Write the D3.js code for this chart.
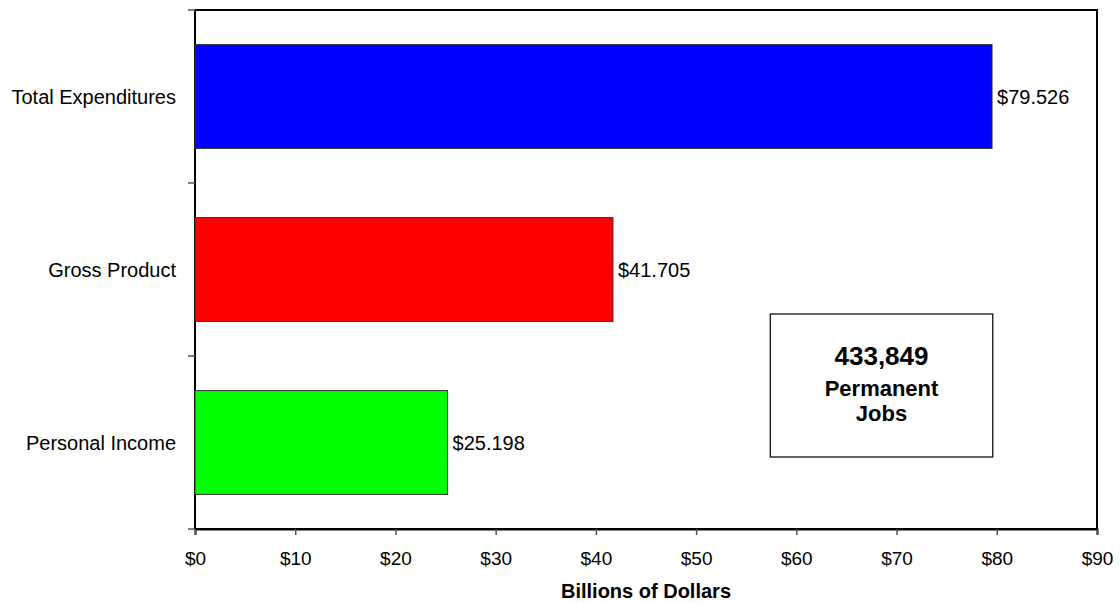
<!DOCTYPE html>
<html><head><meta charset="utf-8">
<script src="https://cdn.jsdelivr.net/npm/d3@7"></script>
<style>body{margin:0;background:#fff;} text{font-family:"Liberation Sans",Arial,sans-serif;}</style>
</head><body>
<svg id="c" width="1120" height="603"></svg>
<script>
const categories = ["Total Expenditures", "Gross Product", "Personal Income"];
const values = [79.526, 41.705, 25.198];
const barColors = ["#0000ff", "#ff0000", "#00ff00"];
const xTicks = [0,10,20,30,40,50,60,70,80,90];
const boxLines = ["433,849", "Permanent", "Jobs"];
const axisTitle = "Billions of Dollars";

const svg = d3.select("#c");
const L = 195, R = 1097, T = 10, B = 529;
const x = d3.scaleLinear().domain([0, 90]).range([L, R]);
const y = d3.scaleBand().domain(categories).range([T, B]).paddingInner(0.4).paddingOuter(0.2);
const yEdges = d3.scaleLinear().domain([0, categories.length]).range([T, B]);

// frame
svg.append("rect").attr("x", L).attr("y", T).attr("width", R - L).attr("height", B - T)
  .attr("fill", "none").attr("stroke", "#000").attr("stroke-width", 2);

// bars
svg.selectAll("rect.bar").data(values).join("rect").attr("class", "bar")
  .attr("x", x(0)).attr("y", (d, i) => y(categories[i]))
  .attr("width", d => x(d) - x(0)).attr("height", y.bandwidth())
  .attr("fill", (d, i) => barColors[i]).attr("stroke", "#333").attr("stroke-width", 1);

// value labels
svg.selectAll("text.val").data(values).join("text").attr("class", "val")
  .attr("x", d => x(d) + 5).attr("y", (d, i) => y(categories[i]) + y.bandwidth() / 2)
  .attr("dy", "0.35em").attr("font-size", 20).attr("fill", "#000")
  .text(d => "$" + d.toFixed(3));

// x axis
const xa = svg.append("g").attr("transform", `translate(0,${B})`)
  .call(d3.axisBottom(x).tickValues(xTicks).tickFormat(d => "$" + d).tickSize(6).tickPadding(17));
xa.select(".domain").attr("stroke", "#000").attr("stroke-width", 2);
xa.selectAll(".tick line").attr("stroke", "#555").attr("stroke-width", 1.5);
xa.selectAll("text").attr("font-size", 19).attr("fill", "#000").attr("font-family", "Liberation Sans, Arial, sans-serif");

// y edge ticks
svg.selectAll("line.yt").data(d3.range(categories.length + 1)).join("line").attr("class", "yt")
  .attr("x1", L - 7).attr("x2", L).attr("y1", d => yEdges(d)).attr("y2", d => yEdges(d))
  .attr("stroke", "#555").attr("stroke-width", 1.5);

// category labels
svg.selectAll("text.cat").data(categories).join("text").attr("class", "cat")
  .attr("x", L - 19).attr("y", d => y(d) + y.bandwidth() / 2).attr("dy", "0.35em")
  .attr("text-anchor", "end").attr("font-size", 20).attr("fill", "#000").text(d => d);

// axis title
svg.append("text").attr("x", (L + R) / 2).attr("y", 598).attr("text-anchor", "middle")
  .attr("font-size", 20).attr("font-weight", "bold").text(axisTitle);

// annotation box
const bx = x(57.4), bx2 = x(79.6), by = 314, by2 = 457;
svg.append("rect").attr("x", bx).attr("y", by).attr("width", bx2 - bx).attr("height", by2 - by)
  .attr("fill", "#fff").attr("stroke", "#000").attr("stroke-width", 1.2);
const cx = (bx + bx2) / 2;
svg.append("text").attr("x", cx).attr("y", 365).attr("text-anchor", "middle")
  .attr("font-size", 26).attr("font-weight", "bold").text(boxLines[0]);
svg.append("text").attr("x", cx).attr("y", 396).attr("text-anchor", "middle")
  .attr("font-size", 22).attr("font-weight", "bold").text(boxLines[1]);
svg.append("text").attr("x", cx).attr("y", 421).attr("text-anchor", "middle")
  .attr("font-size", 22).attr("font-weight", "bold").text(boxLines[2]);
</script>
</body></html>
